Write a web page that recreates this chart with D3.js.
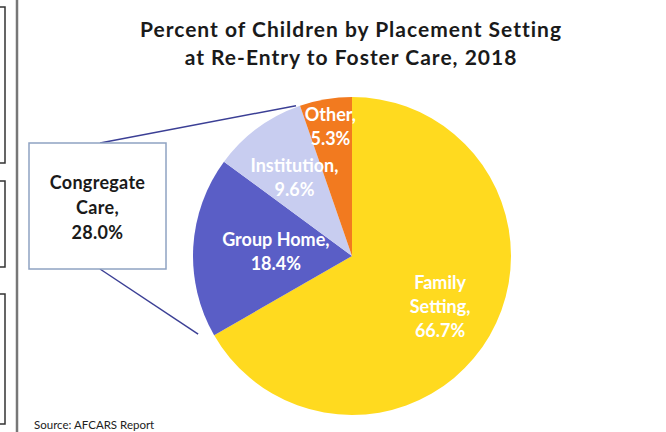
<!DOCTYPE html>
<html>
<head>
<meta charset="utf-8">
<script src="https://cdn.jsdelivr.net/npm/d3@7"></script>
<style>
  html, body { margin: 0; padding: 0; background: #fff; }
  svg { display: block; }
  text { font-family: Lato, "Open Sans", sans-serif; }
</style>
</head>
<body>
<svg id="chart" width="666" height="432"></svg>
<script>
// Placement settings at re-entry, percent of children (2018)
const categories = ["Family Setting", "Group Home", "Institution", "Other"];
const values = [66.7, 18.4, 9.6, 5.3];
const sliceColors = ["#ffda1f", "#5a5ec6", "#c8cdf0", "#f27a1f"];
// label lines drawn inside each slice
const labelLines = [
  ["Family", "Setting,", "66.7%"],
  ["Group Home,", "18.4%"],
  ["Institution,", "9.6%"],
  ["Other,", "5.3%"]
];
// how far out (fraction of radius) each label sits
const labelRadius = [0.64, 0.48, 0.61, 0.82];

// group home + institution form congregate care
const congregateLabel = ["Congregate", "Care,", "28.0%"];
const congregateMembers = [1, 2];

const titleLines = [
  "Percent of Children by Placement Setting",
  "at Re-Entry to Foster Care, 2018"
];
const sourceText = "Source: AFCARS Report";

const svg = d3.select("#chart");

// page edge artefacts on the left
const edge = svg.append("g").attr("stroke", "#333").attr("fill", "none");
edge.append("path").attr("d", "M0,7 H5 V163 H0").attr("stroke-width", 1.5);
edge.append("path").attr("d", "M0,181 H5 V267 H0").attr("stroke-width", 1.5);
edge.append("path").attr("d", "M0,294 H5 V424 H0").attr("stroke-width", 1.5);
edge.append("line").attr("x1", 17).attr("x2", 17).attr("y1", 0).attr("y2", 432)
  .attr("stroke", "#777").attr("stroke-width", 2.5);

// title
svg.append("g").selectAll("text")
  .data(titleLines)
  .join("text")
  .attr("x", 351)
  .attr("y", (d, i) => 37 + i * 28)
  .attr("text-anchor", "middle")
  .attr("font-size", 21)
  .attr("letter-spacing", 1)
  .attr("font-weight", 700)
  .attr("fill", "#1a1a1a")
  .text(d => d);

// pie
const cx = 352, cy = 256, r = 159;
const pie = d3.pie().sort(null).value(d => d).startAngle(0).endAngle(2 * Math.PI);
const arcs = pie(values);
const arc = d3.arc().innerRadius(0).outerRadius(r);

const g = svg.append("g").attr("transform", `translate(${cx},${cy})`);
g.selectAll("path.slice")
  .data(arcs)
  .join("path")
  .attr("class", "slice")
  .attr("d", arc)
  .attr("fill", (d, i) => sliceColors[i]);

// slice labels
arcs.forEach((a, i) => {
  const lr = r * labelRadius[i];
  const [lx, ly] = d3.arc().innerRadius(lr).outerRadius(lr).centroid(a);
  const lines = labelLines[i];
  const lh = 24;
  const t = g.append("text")
    .attr("text-anchor", "middle")
    .attr("font-size", 18)
    .attr("font-weight", 700)
    .attr("fill", "#ffffff");
  lines.forEach((s, k) => {
    t.append("tspan")
      .attr("x", lx)
      .attr("y", ly + (k - (lines.length - 1) / 2) * lh + 6)
      .text(s);
  });
});

// congregate care callout
const boxX = 29, boxY = 143, boxW = 137, boxH = 126;
const startA = arcs[congregateMembers[0]].startAngle;
const endA = arcs[congregateMembers[congregateMembers.length - 1]].endAngle;
const onRim = a => [cx + r * Math.sin(a), cy - r * Math.cos(a)];
const [tx, ty] = onRim(endA);
const [bx, by] = onRim(startA);

svg.append("line")
  .attr("x1", boxX + 71).attr("y1", boxY)
  .attr("x2", tx - 4).attr("y2", ty)
  .attr("stroke", "#3b3f95").attr("stroke-width", 1.5);
svg.append("line")
  .attr("x1", boxX + 71).attr("y1", boxY + boxH)
  .attr("x2", bx - 16).attr("y2", by - 1)
  .attr("stroke", "#3b3f95").attr("stroke-width", 1.5);

svg.append("rect")
  .attr("x", boxX).attr("y", boxY)
  .attr("width", boxW).attr("height", boxH)
  .attr("fill", "#fff")
  .attr("stroke", "#8fa3c2")
  .attr("stroke-width", 1.5);

svg.append("g").selectAll("text")
  .data(congregateLabel)
  .join("text")
  .attr("x", boxX + boxW / 2)
  .attr("y", (d, i) => 189 + i * 25)
  .attr("text-anchor", "middle")
  .attr("font-size", 18)
  .attr("letter-spacing", 0.3)
  .attr("font-weight", 700)
  .attr("fill", "#1a1a1a")
  .text(d => d);

// source note
svg.append("text")
  .attr("x", 34).attr("y", 429)
  .attr("font-size", 11.5)
  .attr("fill", "#222")
  .text(sourceText);
</script>
</body>
</html>
